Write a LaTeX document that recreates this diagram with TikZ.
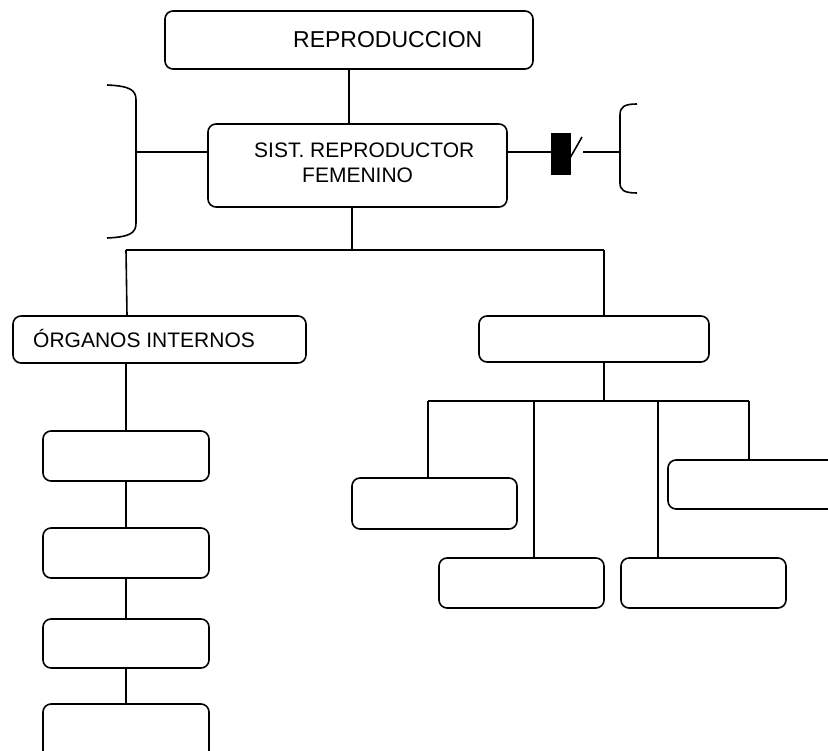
\documentclass[tikz,border=0pt]{standalone}
\usepackage{fontspec}
\setmainfont{Liberation Sans}
\begin{document}
\begin{tikzpicture}[x=1pt,y=-1pt,
  box/.style={draw, rounded corners=8pt, line width=1.6pt, inner sep=0pt, fill=white},
  conn/.style={line width=1.6pt},
  lbl/.style={inner sep=0pt, anchor=base west, font=\fontsize{21}{25}\selectfont},
  leftbox/.style={box, minimum width=166pt, minimum height=50pt},
  rightbox/.style={box, minimum width=165pt, minimum height=50pt}]
\clip (0,0) rectangle (828,751);
% main boxes
\node[box, minimum width=368pt, minimum height=58pt] (repro) at (349,40) {};
\node[lbl, font=\fontsize{23}{27}\selectfont] (reprot) at (293,48) {REPRODUCCION};
\node[box, minimum width=299pt, minimum height=83pt] (sist) at (357.5,165.5) {};
\node[lbl] (sistt1) at (254,158) {SIST. REPRODUCTOR};
\node[lbl] (sistt2) at (302,183) {FEMENINO};
\node[box, minimum width=293pt, minimum height=47pt] (org) at (159.5,339.5) {};
\node[lbl] (orgt) at (33,348) {ÓRGANOS INTERNOS};
\node[box, minimum width=230pt, minimum height=46pt] (ext) at (594,339) {};
% left column
\node[leftbox] (b1) at (126,456) {};
\node[leftbox] (b2) at (126,553) {};
\node[leftbox, minimum height=49pt] (b3) at (126,643.5) {};
\node[leftbox, minimum height=56pt] (b4) at (126,732) {};
% right group
\node[rightbox, minimum height=51pt] (ba) at (434.5,503.5) {};
\node[rightbox] (bb) at (521.5,583) {};
\node[rightbox] (bc) at (703.5,583) {};
\node[box, minimum width=180pt, minimum height=49pt] (bd) at (758,484.5) {};
% black block
\node[fill=black, inner sep=0pt, minimum width=20pt, minimum height=42pt] (blk) at (561,154) {};
% brackets
\draw[conn] (107,85) .. controls (130,86) and (136,90) .. (136,100) -- (136,223) .. controls (136,233) and (130,237) .. (107,238);
\draw[conn] (637,104) .. controls (624,104) and (620,107) .. (620,115) -- (620,183) .. controls (620,190) and (624,193) .. (637,193);
\coordinate (lb) at (136,152);
\coordinate (rb) at (620,152);
\coordinate (sl1) at (570,158);
\coordinate (sl2) at (582,137);
\coordinate (sl3) at (583,152);
% connectors
\draw[conn] (repro.south) -- (repro.south |- sist.north);
\draw[conn] (lb) -- (lb -| sist.west);
\draw[conn] (lb -| sist.east) -- (lb -| blk.west);
\draw[conn] (sl1) -- (sl2);
\draw[conn] (sl3) -- (rb);
\coordinate (h1) at (352,250);
\draw[conn] (sist.south -| h1) -- (h1);
\draw[conn] (126,250) -- (604,250);
\draw[conn] (126,250) -- (org.north -| 127,0);
\draw[conn] (604,250) -- (ext.north -| 604,0);
\draw[conn] (org.south -| b1.north) -- (b1.north);
\draw[conn] (b1) -- (b2);
\draw[conn] (b2) -- (b3);
\draw[conn] (b3.south) -- (b4.north);
\coordinate (h2) at (604,401);
\draw[conn] (ext.south -| h2) -- (h2);
\draw[conn] (428,401) -- (749,401);
\draw[conn] (428,401) -- (ba.north -| 428,0);
\draw[conn] (534,401) -- (bb.north -| 534,0);
\draw[conn] (658,401) -- (bc.north -| 658,0);
\draw[conn] (749,401) -- (bd.north -| 749,0);
\end{tikzpicture}
\end{document}
